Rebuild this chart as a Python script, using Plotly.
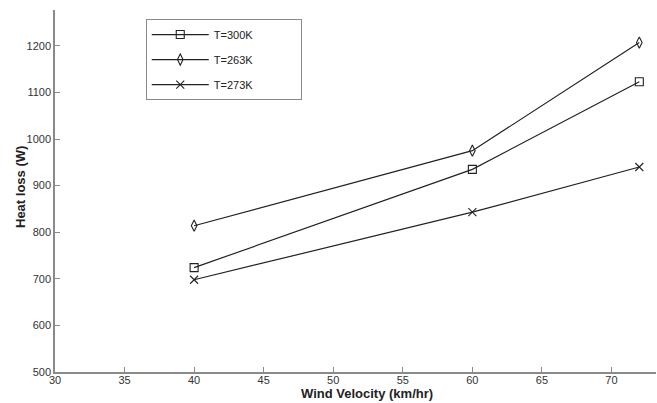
import plotly.graph_objects as go

wind = [40, 60, 72]
t300 = [724, 935, 1123]
t263 = [814, 975, 1207]
t273 = [698, 843, 940]
names = ["T=300K", "T=263K", "T=273K"]
symbols = ["square-open", "diamond-tall-open", "x-thin-open"]
xticks = [30, 35, 40, 45, 50, 55, 60, 65, 70]
yticks = [500, 600, 700, 800, 900, 1000, 1100, 1200]

FONT = "Liberation Sans, Arial, sans-serif"
pad = "\u00a0" * 14

fig = go.Figure()
for i, (name, ys, sym) in enumerate(zip(names, [t300, t263, t273], symbols)):
    fig.add_trace(go.Scatter(
        x=wind, y=ys, name=name + pad, mode="lines+markers",
        line=dict(color="#222222", width=1.2),
        marker=dict(symbol=sym, size=8, color="#222222",
                    line=dict(color="#222222", width=1.1)),
        legendgroup=f"g{i}",
    ))

axis_common = dict(
    showline=True, linecolor="#8a8a8a", linewidth=1.5,
    ticks="inside", ticklen=5, tickcolor="#8a8a8a",
    showgrid=False, zeroline=False, mirror=False, automargin=False,
    tickfont=dict(family=FONT, size=11, color="#333"),
)

fig.update_layout(
    width=657, height=403,
    margin=dict(l=55, r=1, t=10, b=31),
    paper_bgcolor="white", plot_bgcolor="white",
    font=dict(family=FONT, color="#222"),
    xaxis=dict(range=[30, 73.2], tickvals=xticks, ticklabelstandoff=-3, **axis_common),
    yaxis=dict(range=[500, 1277], tickvals=yticks, **axis_common),
    legend=dict(x=0.151, y=0.975, xanchor="left", yanchor="top",
                bordercolor="#8a8a8a", borderwidth=1, bgcolor="white",
                font=dict(size=11, color="#222"), itemwidth=57,
                tracegroupgap=6),
    showlegend=True,
    annotations=[
        dict(text="<b>Wind Velocity (km/hr)</b>", xref="paper", yref="paper",
             x=(367 - 55) / 601, y=-(393 - 372) / 362, showarrow=False,
             xanchor="center", yanchor="middle", font=dict(size=13, family=FONT, color="#222")),
        dict(text="<b>Heat loss (W)</b>", xref="paper", yref="paper",
             x=-(55 - 20) / 601, y=(372 - 187) / 362, showarrow=False, textangle=-90,
             xanchor="center", yanchor="middle", font=dict(size=13, family=FONT, color="#222")),
    ],
)

fig.write_html("out.html", config={"displayModeBar": False},
               post_script="document.body.style.margin='0';")
